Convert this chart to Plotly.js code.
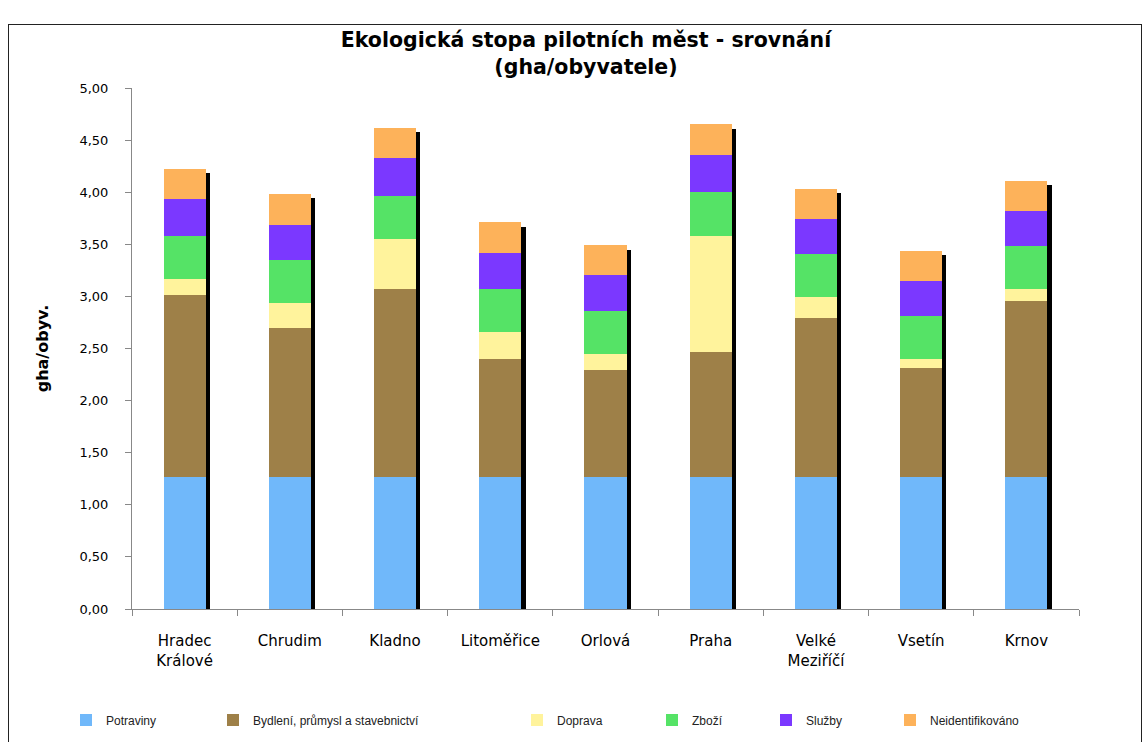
<!DOCTYPE html>
<html><head><meta charset="utf-8">
<script src="https://cdn.plot.ly/plotly-3.0.1.min.js"></script>
<style>
body{margin:0;background:#fff}
#frame{position:absolute;left:8px;top:24px;width:1132px;height:740px;border:1.5px solid #222;pointer-events:none}
</style>
</head><body>
<div id="chart" style="position:absolute;left:0;top:0;width:1143px;height:742px"></div>
<div id="frame"></div>
<script>
const cities = ["Hradec<br>Králové","Chrudim","Kladno","Litoměřice","Orlová","Praha","Velké<br>Meziříčí","Vsetín","Krnov"];
const potraviny = [1.27,1.27,1.27,1.27,1.27,1.27,1.27,1.27,1.27];
const bydleni   = [1.74,1.43,1.80,1.13,1.02,1.20,1.52,1.04,1.69];
const doprava   = [0.16,0.24,0.48,0.26,0.16,1.11,0.20,0.09,0.11];
const zbozi     = [0.41,0.41,0.41,0.41,0.41,0.42,0.42,0.41,0.41];
const sluzby    = [0.35,0.34,0.37,0.35,0.35,0.36,0.33,0.34,0.34];
const neident   = [0.29,0.29,0.29,0.29,0.28,0.29,0.29,0.29,0.29];
const seriesNames = ["Potraviny","Bydlení, průmysl a stavebnictví","Doprava","Zboží","Služby","Neidentifikováno"];
const seriesColors = ["#70B8FA","#9E8048","#FFF39C","#55E366","#7B38FF","#FDB25A"];
const yTicks = [0,0.5,1,1.5,2,2.5,3,3.5,4,4.5,5];

const seriesData = [potraviny,bydleni,doprava,zbozi,sluzby,neident];
const totals = cities.map((c,i)=>seriesData.reduce((s,arr)=>s+arr[i],0));

// plot area in page px
const L = 131.5, R = 1079, T = 88, B = 609;
const FW = 1143, FH = 742;
// legend symbol centres (px)
const legendPx = [86, 233, 537, 672, 786, 910];
const legendY = 720;

const traces = seriesData.map((arr,k)=>({
  type:'bar', x:cities, y:arr, name:seriesNames[k],
  marker:{color:seriesColors[k], line:{width:0}},
  width:0.4, legend: k===0 ? 'legend' : 'legend'+(k+1),
  hoverinfo:'name+y'
}));
traces.push({
  type:'bar', x:cities, y:totals, xaxis:'x2', yaxis:'y2',
  width:0.04, offset:0.2, marker:{color:'#000', line:{width:0}},
  showlegend:false, hoverinfo:'skip'
});

const layout = {
  width:FW, height:FH,
  paper_bgcolor:'#fff', plot_bgcolor:'rgba(0,0,0,0)',
  margin:{l:L, r:FW-R, t:T, b:FH-B, pad:0, autoexpand:false},
  barmode:'stack', separators:',.',
  font:{family:'DejaVu Sans, Verdana, sans-serif', color:'#000'},
  title:{text:'Ekologická stopa pilotních měst - srovnání<br>(gha/obyvatele)',
         font:{size:20.5, family:'DejaVu Sans, Verdana, sans-serif', weight:'bold', color:'#000'},
         x:586/FW, xanchor:'center', y:1-47/FH, yanchor:'middle', yref:'container', xref:'container'},
  xaxis:{type:'category', showgrid:false, showline:true, linecolor:'#888', linewidth:1,
         ticks:'outside', tickson:'boundaries', ticklen:6, tickcolor:'#888',
         tickfont:{size:15, color:'#000'}, ticklabelstandoff:18, fixedrange:true, automargin:false},
  xaxis2:{type:'category', overlaying:'x', visible:false, showgrid:false, fixedrange:true},
  yaxis:{range:[0,5], tickvals:yTicks, tickformat:'.2f', showgrid:false, zeroline:false,
         showline:true, linecolor:'#888', linewidth:1, ticks:'outside', ticklen:6, tickcolor:'#888',
         tickfont:{size:13, color:'#000'}, ticklabelstandoff:14, automargin:false,
         title:{text:'gha/obyv.', font:{size:16, weight:'bold', color:'#000'}, standoff:26}, fixedrange:true},
  yaxis2:{range:[0.04,5.04], overlaying:'y', visible:false, showgrid:false, zeroline:false, fixedrange:true},
  bargap:0.6,
  showlegend:true
};
legendPx.forEach((px,k)=>{
  const key = k===0 ? 'legend' : 'legend'+(k+1);
  layout[key] = {orientation:'h', xref:'container', yref:'container',
    x:(px-20)/FW, xanchor:'left', y:1-legendY/FH, yanchor:'middle',
    bgcolor:'rgba(0,0,0,0)', borderwidth:0,
    font:{size:12, family:'Liberation Sans Narrow, Liberation Sans, Arial, sans-serif', color:'#222'}};
});

Plotly.newPlot('chart', traces, layout, {displayModeBar:false});
</script>
</body></html>
